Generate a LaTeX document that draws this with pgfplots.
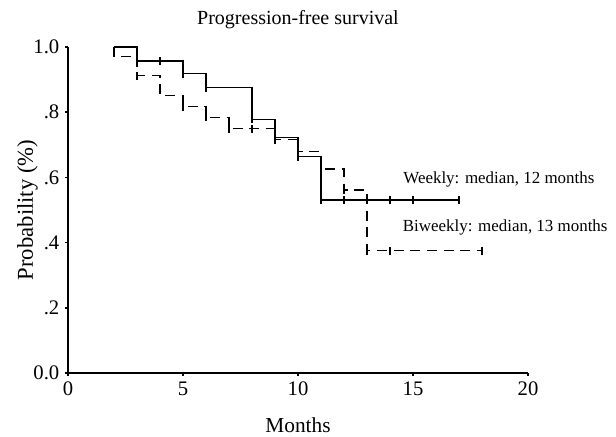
\documentclass[border=0pt]{standalone}
\usepackage{pgfplots}
\pgfplotsset{compat=1.18}
\usepackage{fontspec}
\setmainfont{Liberation Serif}
\begin{document}
\begin{tikzpicture}
\useasboundingbox (-51pt,-47.25pt) rectangle (411pt,279.75pt);
\begin{axis}[
  at={(0,0)}, anchor=south west,
  scale only axis, width=345pt, height=244.5pt,
  xmin=0, xmax=20, ymin=0, ymax=1,
  axis lines=left,
  axis line style={line width=1pt, -},
  xtick={0,5,10,15,20},
  ytick={0,0.2,0.4,0.6,0.8,1.0},
  yticklabels={0.0,.2,.4,.6,.8,1.0},
  tick align=outside,
  major tick length=2pt,
  tick style={line width=1.2pt, black},
  /pgf/number format/assume math mode=true,
  ticklabel style={font=\fontsize{15.5}{18}\selectfont},
  xticklabel style={yshift=-1pt},
  yticklabel style={xshift=-1pt},
  xlabel={Months},
  ylabel={Probability (\%)},
  xlabel style={at={(axis description cs:0.5,-0.16)}, anchor=center, font=\fontsize{16}{18}\selectfont},
  ylabel style={at={(axis description cs:-0.088,0.5)}, anchor=center, font=\fontsize{17}{19}\selectfont},
  title={Progression-free survival},
  title style={at={(axis description cs:0.5,1.06)}, anchor=center, font=\fontsize{15}{17}\selectfont},
  clip=false,
]
% Weekly (solid)
\addplot[const plot, black, line width=1pt, no marks] coordinates {
  (2,1.0) (3,0.957) (5,0.918) (6,0.875) (8,0.778) (9,0.722) (10,0.664) (11,0.531) (17,0.531)
};
\addplot[only marks, mark=|, mark size=3pt, mark options={solid, line width=0.9pt, black}] coordinates {
  (3,0.957) (4,0.957) (5,0.918) (6,0.875) (8,0.778) (9,0.722) (10,0.664)
  (11,0.531) (12,0.531) (13,0.531) (14,0.531) (15,0.531) (17,0.531)
};
% Biweekly (dashed)
\addplot[const plot, black, line width=1pt, dash pattern=on 7.5pt off 5pt, no marks] coordinates {
  (2,1.0) (2,0.971) (3,0.912) (4,0.851) (5,0.817) (6,0.784) (7,0.750) (9,0.716) (10,0.679) (11,0.626) (12,0.561) (13,0.375) (18,0.375)
};
\addplot[only marks, mark=|, mark size=3pt, mark options={solid, line width=0.9pt, black}] coordinates {
  (3,0.912) (5,0.817) (6,0.784) (7,0.750) (8,0.750) (9,0.716) (10,0.679)
  (11,0.626) (12,0.561) (13,0.375) (14,0.375) (18,0.375)
};
\node[anchor=west, font=\fontsize{12.7}{14}\selectfont, inner sep=0pt] at (axis cs:14.57,0.595) {Weekly: median, 12 months};
\node[anchor=west, font=\fontsize{12.7}{14}\selectfont, inner sep=0pt] at (axis cs:14.55,0.448) {Biweekly: median, 13 months};
\end{axis}
\end{tikzpicture}
\end{document}
